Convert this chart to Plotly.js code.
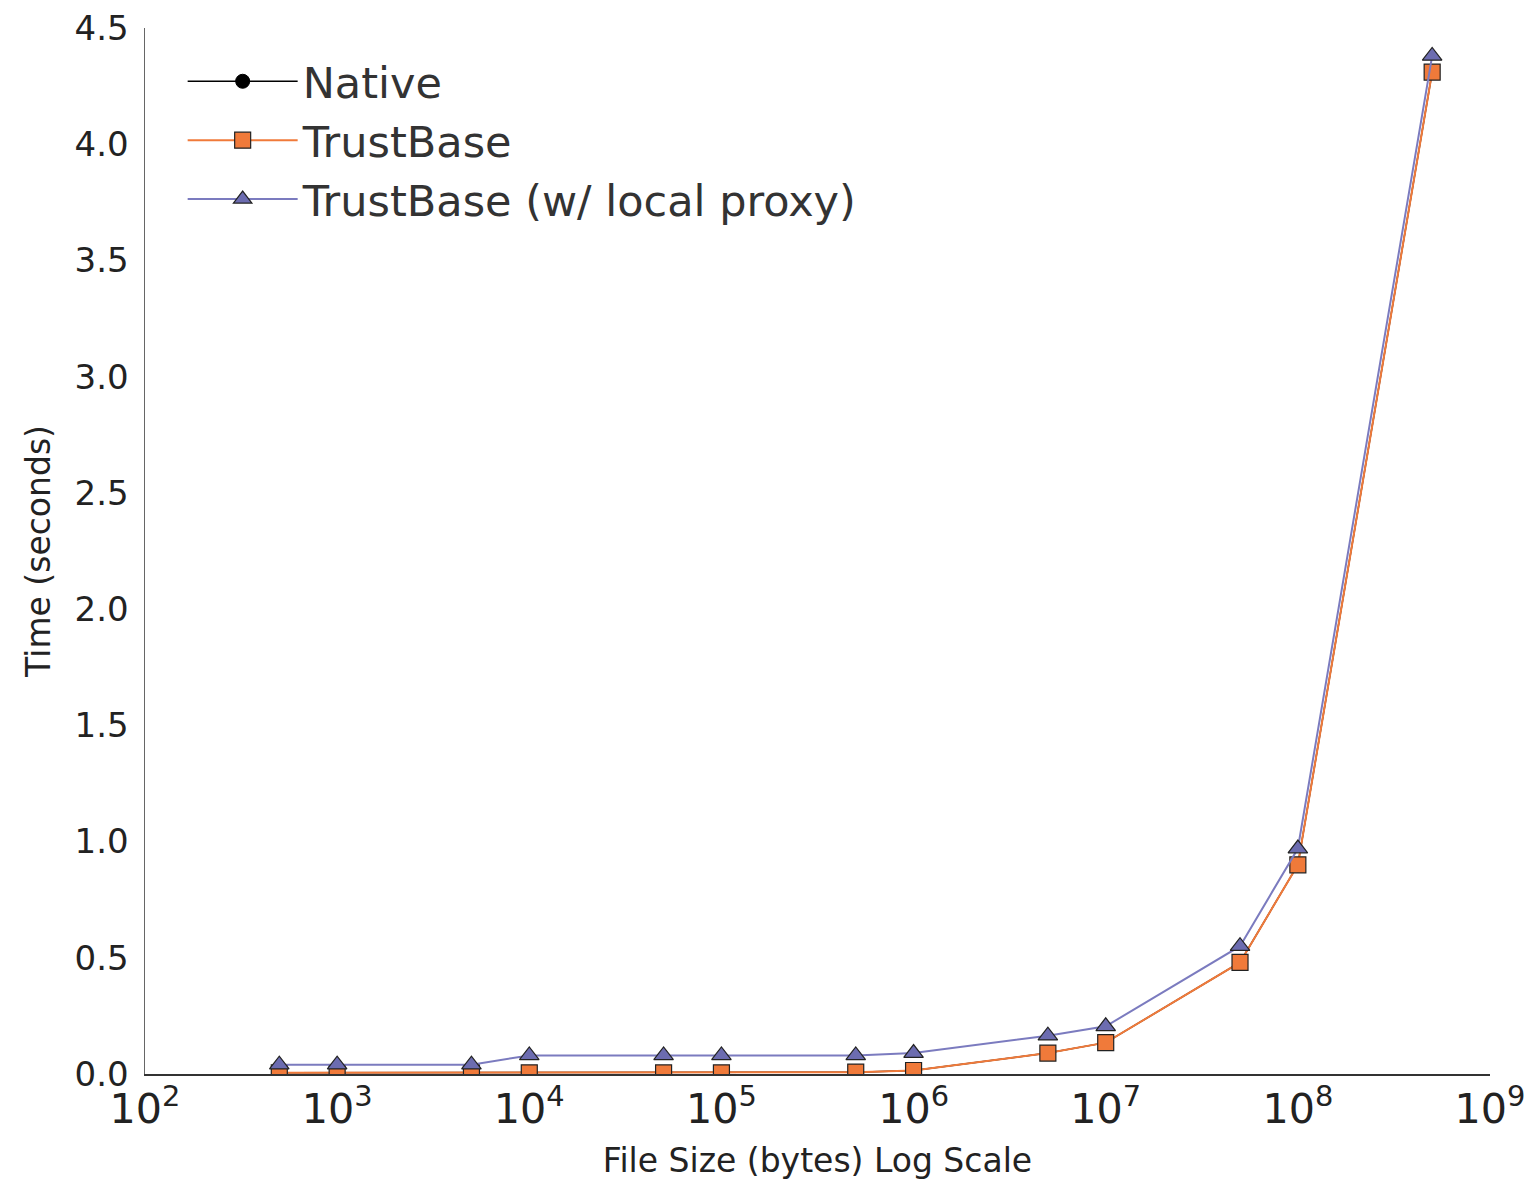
<!DOCTYPE html>
<html>
<head>
<meta charset="utf-8">
<script src="https://cdn.plot.ly/plotly-3.0.1.min.js"></script>
<style>html,body{margin:0;padding:0;background:#fff;}#chart{width:1528px;height:1182px;}</style>
</head>
<body>
<div id="chart"></div>
<script>
const fileSizes = [500, 1000, 5000, 10000, 50000, 100000, 500000, 1000000, 5000000, 10000000, 50000000, 100000000, 500000000];
const nativeTimes = [0.005, 0.005, 0.005, 0.005, 0.005, 0.005, 0.008, 0.015, 0.09, 0.135, 0.48, 0.90, 4.31];
const trustBaseTimes = [0.005, 0.005, 0.005, 0.005, 0.005, 0.005, 0.008, 0.015, 0.09, 0.135, 0.48, 0.90, 4.31];
const proxyTimes = [0.04, 0.04, 0.04, 0.08, 0.08, 0.08, 0.08, 0.09, 0.165, 0.205, 0.55, 0.97, 4.38];
const seriesNames = ["Native", "TrustBase", "TrustBase (w/ local proxy)"];

const font = "DejaVu Sans, sans-serif";
const traces = [
  {x: fileSizes, y: nativeTimes, name: seriesNames[0], mode: "lines+markers",
   line: {color: "#000000", width: 1.5},
   marker: {symbol: "circle", size: 14, color: "#000000", line: {color: "#000000", width: 1}}},
  {x: fileSizes, y: trustBaseTimes, name: seriesNames[1], mode: "lines+markers",
   line: {color: "#f07a3a", width: 2},
   marker: {symbol: "square", size: 16, color: "#f07a3a", line: {color: "#222222", width: 1.2}}},
  {x: fileSizes, y: proxyTimes, name: seriesNames[2], mode: "lines+markers",
   line: {color: "#7b7bbf", width: 2},
   marker: {symbol: "triangle-up", size: 17, color: "#6c6cb0", line: {color: "#222222", width: 1.2}}}
];

const layout = {
  width: 1528, height: 1182,
  margin: {l: 145, r: 38, t: 28, b: 108},
  paper_bgcolor: "#ffffff", plot_bgcolor: "#ffffff",
  font: {family: font, color: "#222222"},
  showlegend: true,
  legend: {x: 0.028, y: 0.982, xanchor: "left", yanchor: "top",
           font: {family: font, size: 43, color: "#333333"},
           bgcolor: "rgba(0,0,0,0)", itemwidth: 110, tracegroupgap: 0},
  xaxis: {type: "log", range: [2, 9], dtick: 1, exponentformat: "power",
          showgrid: false, zeroline: false, showline: true, linecolor: "#333333", linewidth: 1.5,
          ticks: "", tickfont: {family: font, size: 33, color: "#222222"},
          title: {text: "File Size (bytes) Log Scale", font: {family: font, size: 33, color: "#222222"}, standoff: 16}},
  yaxis: {range: [0, 4.5], dtick: 0.5, tickformat: ".1f",
          showgrid: false, zeroline: false, showline: true, linecolor: "#666666", linewidth: 1.5,
          ticks: "", ticklen: 0, ticklabelstandoff: 8, tickfont: {family: font, size: 34, color: "#222222"},
          title: {text: "Time (seconds)", font: {family: font, size: 33, color: "#222222"}, standoff: 14}}
};

Plotly.newPlot("chart", traces, layout, {displayModeBar: false, staticPlot: true});
</script>
</body>
</html>
